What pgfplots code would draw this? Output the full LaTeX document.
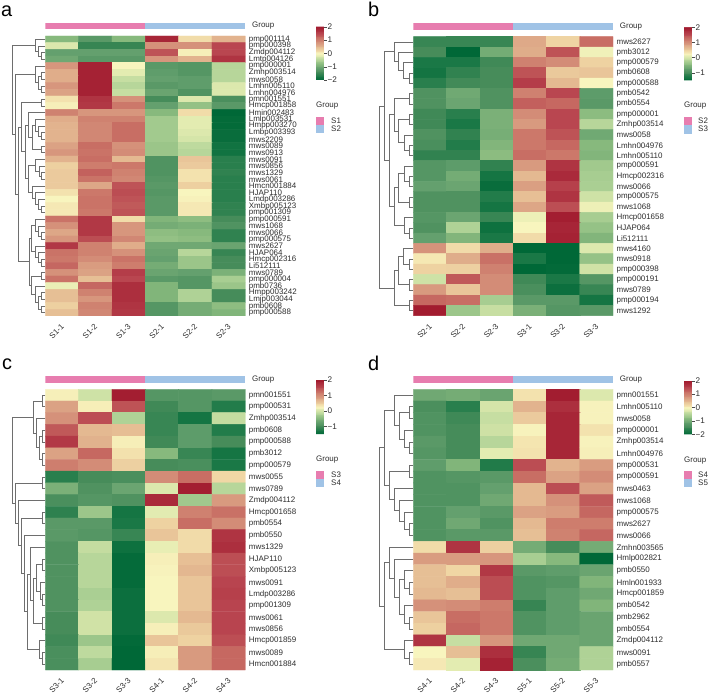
\documentclass[border=0pt]{standalone}
\usepackage{fontspec}
\setmainfont{Liberation Sans}
\usepackage{pgfplots}
\pgfplotsset{compat=1.18}

\definecolor{grpa}{RGB}{231,125,175}
\definecolor{grpb}{RGB}{160,195,230}
\definecolor{dend}{RGB}{110,110,110}
\definecolor{txt}{RGB}{45,45,45}

\newcommand{\smallfont}{\fontsize{8}{8}\selectfont}

\pgfplotsset{
  colormap={heat}{
    rgb255(0pt)=(0,104,55); rgb255(15pt)=(26,120,70); rgb255(30pt)=(70,140,90);
    rgb255(45pt)=(100,160,110); rgb255(60pt)=(135,185,125); rgb255(75pt)=(175,210,150);
    rgb255(88pt)=(215,230,170); rgb255(100pt)=(248,245,190); rgb255(112pt)=(240,215,165);
    rgb255(125pt)=(228,185,145); rgb255(140pt)=(215,150,125); rgb255(160pt)=(200,110,100);
    rgb255(175pt)=(185,70,80); rgb255(200pt)=(160,25,45)},
  heat/.style={
    scale only axis, enlargelimits=false, y dir=reverse,
    xmin=-0.5, xmax=5.5,
    axis line style={draw=none}, tick style={draw=none}, major tick length=0pt,
    xtick={0,...,5}, ytick pos=right, yticklabel pos=right,
    font=\smallfont, tick label style={text=txt},
    yticklabel style={anchor=west, inner sep=0pt, xshift=3.4bp},
    xticklabel style={rotate=45, anchor=north east, inner sep=0pt, xshift=-6bp, yshift=-4bp},
    point meta min=#1,
    colorbar sampled,
  },
  cbar/.style={
    samples=65, width=8bp, anchor=north west,
    axis line style={draw=none}, xtick=\empty,
    ytick style={draw=black!70}, tick align=outside, major tick length=2.5bp,
    ytick pos=right, yticklabel pos=right,
    yticklabel style={anchor=west, inner sep=0pt, xshift=1bp, text=txt, font=\fontsize{8.2}{8}\selectfont},
  },
  annot/.style={
    scale only axis, enlargelimits=false, xmin=0, xmax=6, ymin=0, ymax=1,
    axis line style={draw=none}, tick style={draw=none}, major tick length=0pt,
    xtick=\empty, ytick={0.5}, yticklabels={Group}, ytick pos=right, yticklabel pos=right,
    font=\smallfont, yticklabel style={anchor=west, inner sep=0pt, xshift=6.7bp, text=txt},
  },
  dendro/.style={
    scale only axis, hide axis, enlargelimits=false, clip=false,
    y dir=reverse, x dir=reverse, xmin=0, unbounded coords=jump,
  },
  mat/.style={matrix plot*, mesh/cols=6, point meta=\thisrowno{0}, draw=none},
  /pgfplots/table/tbl/.style={header=false, row sep=crcr,
    x expr={int(mod(\coordindex,6))}, y expr={floor((\coordindex+0.5)/6)}},
}

\begin{document}
\begin{tikzpicture}[x=1bp,y=1bp]
\path[use as bounding box] (0,0) rectangle (708,693);

% ---- a ----
\begin{axis}[heat=-2, at={(45.3bp,377bp)}, anchor=south west, width=200bp, height=280bp,
  point meta max=2, ymin=-0.5, ymax=41.5, ytick={0,...,41},
  xticklabels={S1-1,S1-2,S1-3,S2-1,S2-2,S2-3},
  yticklabels={pmp001114,pmp000398,Zmdp004112,Lmtp004126,pmp000001,Zmhp003514,mws0058,Lmhn005110,Lmhn004976,pmn001551,Hmcp001858,Hmin002483,Lmlp003531,Hmpp003270,Lmbp003393,mws2209,mws0089,mws0913,mws0091,mws0856,mws1329,mws0061,Hmcn001884,HJAP110,Lmdp003286,Xmbp005123,pmp001309,pmp000591,mws1068,mws0066,pmp000575,mws2627,HJAP064,Hmcp002316,Li512111,mws0789,pmp000004,pmb0736,Hmpp003242,Lmjp003044,pmb0608,pmp000588},
  colorbar style={cbar, at={(1.3535,1.0332)}, height=53.3bp, ytick={-2,-1,0,1,2}, yticklabels={−2,−1,0,1,2}}]
\addplot[mat] table[tbl] {
-0.8\\-1.2\\-0.8\\1.85\\0.2\\0.55\\
-0.2\\-1.5\\-1.5\\0.85\\0.85\\1.5\\
-1.1\\-1.1\\-1.1\\1.4\\0.05\\1.5\\
-1.0\\-1.2\\-1.2\\0.8\\0.55\\1.7\\
0.8\\1.9\\0.0\\-1.2\\-1.25\\-0.45\\
0.6\\1.9\\-0.15\\-1.15\\-1.25\\-0.45\\
0.6\\1.9\\-0.35\\-1.1\\-1.15\\-0.45\\
0.8\\1.9\\-0.45\\-1.2\\-1.15\\-0.2\\
0.7\\1.9\\-0.35\\-1.05\\-1.3\\-0.2\\
0.15\\1.7\\0.85\\-1.4\\-0.2\\-1.35\\
0.05\\1.65\\1.1\\-1.1\\-0.7\\-1.2\\
1.0\\0.8\\0.8\\-0.8\\0.2\\-2.0\\
0.6\\1.0\\1.0\\-0.6\\-0.15\\-1.95\\
0.55\\0.95\\1.2\\-0.6\\-0.15\\-1.95\\
0.55\\0.95\\1.2\\-0.6\\-0.2\\-1.9\\
0.55\\0.95\\1.2\\-0.6\\-0.25\\-1.9\\
0.7\\1.2\\0.85\\-0.65\\-0.4\\-1.8\\
0.8\\1.15\\0.9\\-0.65\\-0.45\\-1.8\\
0.55\\1.2\\0.5\\-1.3\\0.4\\-1.6\\
0.3\\1.05\\1.1\\-1.3\\0.35\\-1.6\\
0.35\\1.3\\1.0\\-1.3\\0.15\\-1.55\\
0.35\\1.15\\0.95\\-1.25\\0.15\\-1.6\\
0.35\\0.65\\1.4\\-1.2\\0.3\\-1.6\\
0.15\\1.1\\1.45\\-1.25\\0.0\\-1.6\\
0.0\\1.15\\1.4\\-1.2\\0.03\\-1.6\\
0.1\\1.15\\1.35\\-1.2\\0.1\\-1.55\\
0.1\\1.1\\1.4\\-1.2\\0.1\\-1.55\\
1.15\\1.65\\0.2\\-0.85\\-0.75\\-1.4\\
0.85\\1.65\\0.8\\-0.95\\-0.9\\-1.3\\
0.65\\1.65\\0.8\\-0.75\\-0.8\\-1.55\\
0.8\\1.45\\0.95\\-0.7\\-0.75\\-1.55\\
1.65\\1.0\\0.6\\-1.0\\-1.0\\-1.05\\
1.15\\1.0\\0.85\\-1.05\\-0.45\\-1.5\\
1.1\\0.9\\1.15\\-1.1\\-0.65\\-1.4\\
1.25\\0.75\\1.05\\-0.95\\-0.65\\-1.4\\
0.85\\0.7\\1.6\\-1.05\\-1.1\\-0.9\\
1.15\\0.45\\1.5\\-1.2\\-1.25\\-0.55\\
-0.1\\1.25\\1.75\\-0.85\\-1.25\\-0.65\\
0.45\\1.0\\1.75\\-0.85\\-0.5\\-1.4\\
0.45\\0.8\\1.75\\-0.85\\-0.5\\-1.4\\
0.3\\1.0\\1.7\\-1.25\\-0.95\\-0.75\\
0.45\\0.95\\1.65\\-1.25\\-0.95\\-0.85\\
};
\end{axis}
\begin{axis}[annot, at={(45.3bp,663.7bp)}, anchor=south west, width=200bp, height=6.6bp]
\addplot[fill=grpa, draw=none] coordinates {(0,0)(3,0)(3,1)(0,1)} --cycle;
\addplot[fill=grpb, draw=none] coordinates {(3,0)(6,0)(6,1)(3,1)} --cycle;
\end{axis}
\begin{axis}[dendro, at={(5bp,377bp)}, anchor=south west, width=40.3bp, height=280bp, xmax=121, ymin=-0.5, ymax=41.5]
\addplot[dend, line width=0.7bp] coordinates {
(0,2)(13,2)(13,3)(0,3)(nan,nan)
(0,1)(21,1)(21,2.5)(13,2.5)(nan,nan)
(0,0)(31,0)(31,1.75)(21,1.75)(nan,nan)
(0,5)(12,5)(12,6)(0,6)(nan,nan)
(0,7)(12,7)(12,8)(0,8)(nan,nan)
(12,5.5)(21,5.5)(21,7.5)(12,7.5)(nan,nan)
(0,4)(31,4)(31,6.5)(21,6.5)(nan,nan)
(0,9)(13,9)(13,10)(0,10)(nan,nan)
(0,14)(13,14)(13,15)(0,15)(nan,nan)
(0,13)(21,13)(21,14.5)(13,14.5)(nan,nan)
(0,12)(29,12)(29,13.75)(21,13.75)(nan,nan)
(0,16)(13,16)(13,17)(0,17)(nan,nan)
(29,12.875)(39,12.875)(39,16.5)(13,16.5)(nan,nan)
(0,11)(51,11)(51,14.69)(39,14.69)(nan,nan)
(0,20)(11,20)(11,21)(0,21)(nan,nan)
(0,19)(19,19)(19,20.5)(11,20.5)(nan,nan)
(0,18)(29,18)(29,19.75)(19,19.75)(nan,nan)
(0,25)(13,25)(13,26)(0,26)(nan,nan)
(0,24)(21,24)(21,25.5)(13,25.5)(nan,nan)
(0,23)(29,23)(29,24.75)(21,24.75)(nan,nan)
(0,22)(39,22)(39,23.875)(29,23.875)(nan,nan)
(29,18.875)(51,18.875)(51,22.94)(39,22.94)(nan,nan)
(51,12.84)(61,12.84)(61,20.91)(51,20.91)(nan,nan)
(13,9.5)(71,9.5)(71,16.87)(61,16.87)(nan,nan)
(0,29)(13,29)(13,30)(0,30)(nan,nan)
(0,28)(21,28)(21,29.5)(13,29.5)(nan,nan)
(0,27)(29,27)(29,28.75)(21,28.75)(nan,nan)
(0,33)(13,33)(13,34)(0,34)(nan,nan)
(0,32)(21,32)(21,33.5)(13,33.5)(nan,nan)
(0,31)(29,31)(29,32.75)(21,32.75)(nan,nan)
(29,27.875)(41,27.875)(41,31.875)(29,31.875)(nan,nan)
(0,35)(13,35)(13,36)(0,36)(nan,nan)
(0,38)(13,38)(13,39)(0,39)(nan,nan)
(0,40)(13,40)(13,41)(0,41)(nan,nan)
(13,38.5)(21,38.5)(21,40.5)(13,40.5)(nan,nan)
(0,37)(31,37)(31,39.5)(21,39.5)(nan,nan)
(13,35.5)(41,35.5)(41,38.25)(31,38.25)(nan,nan)
(41,29.875)(49,29.875)(49,36.875)(41,36.875)(nan,nan)
(71,13.19)(81,13.19)(81,33.375)(49,33.375)(nan,nan)
(31,5.25)(89,5.25)(89,23.28)(81,23.28)(nan,nan)
(31,0.875)(100,0.875)(100,14.27)(89,14.27)
};
\end{axis}

% ---- b ----
\begin{axis}[heat=-1.5, at={(413.3bp,377.3bp)}, anchor=south west, width=199.7bp, height=279bp,
  point meta max=2, ymin=-0.5, ymax=26.5, ytick={0,...,26},
  xticklabels={S2-1,S2-2,S2-3,S3-1,S3-2,S3-3},
  yticklabels={mws2627,pmb3012,pmp000579,pmb0608,pmp000588,pmb0542,pmb0554,pmp000001,Zmhp003514,mws0058,Lmhn004976,Lmhn005110,pmp000591,Hmcp002316,mws0066,pmp000575,mws1068,Hmcp001658,HJAP064,Li512111,mws4160,mws0918,pmp000398,pmp000191,mws0789,pmp000194,mws1292},
  colorbar style={cbar, at={(1.3555,1.0337)}, height=53bp, ytick={-1,0,1,2}, yticklabels={−1,0,1,2}}]
\addplot[mat] table[tbl] {
-1.06\\-1.06\\-1.06\\0.81\\0.48\\1.3\\
-0.97\\-1.5\\-0.59\\0.78\\1.48\\0.2\\
-1.24\\-1.24\\-1.01\\1.13\\1.04\\0.5\\
-1.3\\-1.1\\-0.97\\1.48\\0.57\\0.6\\
-1.15\\-1.0\\-0.97\\1.65\\0.69\\0.25\\
-0.89\\-0.62\\-0.89\\1.13\\1.56\\-0.77\\
-0.89\\-0.66\\-0.89\\1.39\\1.34\\-0.8\\
-1.01\\-1.15\\-0.54\\1.04\\1.56\\-0.42\\
-1.01\\-1.24\\-0.54\\0.92\\1.56\\-0.14\\
-0.89\\-1.1\\-0.57\\1.21\\1.48\\-0.62\\
-0.94\\-1.19\\-0.49\\1.21\\1.34\\-0.45\\
-1.1\\-1.1\\-0.42\\1.3\\1.21\\-0.49\\
-0.84\\-0.77\\-1.1\\0.92\\1.74\\-0.28\\
-0.84\\-0.59\\-1.29\\0.69\\1.83\\-0.24\\
-0.71\\-0.66\\-1.41\\0.88\\1.62\\-0.22\\
-0.89\\-0.89\\-1.19\\0.64\\1.74\\-0.01\\
-0.89\\-0.89\\-1.29\\0.83\\1.51\\0.18\\
-0.84\\-0.66\\-1.06\\0.18\\1.95\\-0.24\\
-0.89\\-0.19\\-1.36\\0.25\\1.88\\-0.36\\
-0.71\\-0.49\\-1.24\\0.43\\1.91\\-0.49\\
0.98\\0.43\\0.78\\-1.5\\-1.5\\0.08\\
0.34\\0.78\\1.27\\-1.24\\-1.5\\-0.36\\
0.5\\0.51\\1.13\\-1.5\\-1.47\\0.0\\
-0.01\\1.44\\1.04\\-1.01\\-1.24\\-0.84\\
0.92\\0.6\\1.04\\-0.94\\-1.38\\-1.06\\
1.34\\1.3\\-0.24\\-0.8\\-0.8\\-1.29\\
1.97\\-0.31\\-0.05\\-0.54\\-0.84\\-0.8\\
};
\end{axis}
\begin{axis}[annot, at={(413.3bp,663bp)}, anchor=south west, width=199.7bp, height=6.7bp]
\addplot[fill=grpa, draw=none] coordinates {(0,0)(3,0)(3,1)(0,1)} --cycle;
\addplot[fill=grpb, draw=none] coordinates {(3,0)(6,0)(6,1)(3,1)} --cycle;
\end{axis}
\begin{axis}[dendro, at={(375bp,377.3bp)}, anchor=south west, width=38.3bp, height=279bp, xmax=115, ymin=-0.5, ymax=26.5]
\addplot[dend, line width=0.7bp] coordinates {
(0,3)(13,3)(13,4)(0,4)(nan,nan)
(0,2)(30,2)(30,3.5)(13,3.5)(nan,nan)
(0,1)(45,1)(45,2.75)(30,2.75)(nan,nan)
(0,0)(58,0)(58,1.875)(45,1.875)(nan,nan)
(0,5)(13,5)(13,6)(0,6)(nan,nan)
(0,7)(13,7)(13,8)(0,8)(nan,nan)
(0,10)(13,10)(13,11)(0,11)(nan,nan)
(0,9)(28,9)(28,10.5)(13,10.5)(nan,nan)
(13,7.5)(45,7.5)(45,9.75)(28,9.75)(nan,nan)
(13,5.5)(58,5.5)(58,8.625)(45,8.625)(nan,nan)
(0,13)(13,13)(13,14)(0,14)(nan,nan)
(0,12)(28,12)(28,13.5)(13,13.5)(nan,nan)
(0,15)(13,15)(13,16)(0,16)(nan,nan)
(28,12.75)(45,12.75)(45,15.5)(13,15.5)(nan,nan)
(0,18)(13,18)(13,19)(0,19)(nan,nan)
(0,17)(28,17)(28,18.5)(13,18.5)(nan,nan)
(45,14.125)(58,14.125)(58,17.75)(28,17.75)(nan,nan)
(58,7.06)(72,7.06)(72,15.94)(58,15.94)(nan,nan)
(58,0.94)(87,0.94)(87,11.5)(72,11.5)(nan,nan)
(0,21)(13,21)(13,22)(0,22)(nan,nan)
(0,20)(30,20)(30,21.5)(13,21.5)(nan,nan)
(0,23)(13,23)(13,24)(0,24)(nan,nan)
(30,20.75)(45,20.75)(45,23.5)(13,23.5)(nan,nan)
(0,25)(13,25)(13,26)(0,26)(nan,nan)
(45,22.125)(58,22.125)(58,25.5)(13,25.5)(nan,nan)
(87,6.22)(102,6.22)(102,23.81)(58,23.81)
};
\end{axis}

% ---- c ----
\begin{axis}[heat=-1.5, at={(45.3bp,23bp)}, anchor=south west, width=200bp, height=280.7bp,
  point meta max=2, ymin=-0.5, ymax=23.5, ytick={0,...,23},
  xticklabels={S3-1,S3-2,S3-3,S4-1,S4-2,S4-3},
  yticklabels={pmn001551,pmp000531,Zmhp003514,pmb0608,pmp000588,pmb3012,pmp000579,mws0055,mws0789,Zmdp004112,Hmcp001658,pmb0554,pmb0550,mws1329,HJAP110,Xmbp005123,mws0091,Lmdp003286,pmp001309,mws0061,mws0856,Hmcp001859,mws0089,Hmcn001884},
  colorbar style={cbar, at={(1.3535,1.0331)}, height=54bp, ytick={-1,0,1,2}, yticklabels={−1,0,1,2}}]
\addplot[mat] table[tbl] {
0.29\\-0.01\\1.95\\-0.84\\-0.84\\-0.8\\
0.86\\0.3\\1.48\\-1.01\\-0.84\\-1.19\\
0.99\\1.51\\-0.19\\-1.06\\-1.29\\-0.07\\
1.44\\0.69\\0.65\\-1.06\\-0.77\\-1.19\\
1.69\\0.74\\0.3\\-1.01\\-0.77\\-0.97\\
0.86\\1.34\\0.39\\-0.45\\-1.06\\-1.29\\
1.16\\1.04\\0.51\\-0.97\\-0.94\\-1.24\\
-1.15\\-0.97\\-0.94\\1.04\\1.3\\0.46\\
-0.54\\-0.89\\-0.66\\0.07\\1.95\\-0.14\\
-0.94\\-0.84\\-0.89\\1.83\\-0.28\\0.92\\
-1.12\\-0.31\\-1.29\\0.11\\1.13\\1.27\\
-0.8\\-0.8\\-1.24\\0.5\\1.3\\1.04\\
-0.8\\-0.84\\-1.06\\0.6\\0.43\\1.74\\
-0.89\\-0.07\\-1.36\\0.15\\0.43\\1.79\\
-0.89\\-0.14\\-1.45\\0.29\\0.64\\1.51\\
-0.89\\-0.14\\-1.45\\0.27\\0.7\\1.51\\
-0.89\\-0.14\\-1.45\\0.25\\0.6\\1.58\\
-0.89\\-0.22\\-1.38\\0.25\\0.6\\1.62\\
-0.89\\-0.19\\-1.38\\0.25\\0.6\\1.58\\
-0.97\\0.0\\-1.38\\0.07\\0.69\\1.58\\
-0.97\\0.0\\-1.38\\0.29\\0.57\\1.58\\
-1.01\\-0.31\\-1.47\\0.6\\0.5\\1.51\\
-0.94\\-0.1\\-1.5\\0.3\\0.92\\1.34\\
-0.94\\-0.24\\-1.5\\0.36\\0.92\\1.34\\
};
\end{axis}
\begin{axis}[annot, at={(45.3bp,310bp)}, anchor=south west, width=200bp, height=6.5bp]
\addplot[fill=grpa, draw=none] coordinates {(0,0)(3,0)(3,1)(0,1)} --cycle;
\addplot[fill=grpb, draw=none] coordinates {(3,0)(6,0)(6,1)(3,1)} --cycle;
\end{axis}
\begin{axis}[dendro, at={(5bp,23bp)}, anchor=south west, width=40.3bp, height=280.7bp, xmax=121, ymin=-0.5, ymax=23.5]
\addplot[dend, line width=0.7bp] coordinates {
(0,0)(8,0)(8,1)(0,1)(nan,nan)
(0,3)(8,3)(8,4)(0,4)(nan,nan)
(0,5)(8,5)(8,6)(0,6)(nan,nan)
(8,3.5)(18,3.5)(18,5.5)(8,5.5)(nan,nan)
(0,2)(28,2)(28,4.5)(18,4.5)(nan,nan)
(8,0.5)(36,0.5)(36,3.25)(28,3.25)(nan,nan)
(0,7)(8,7)(8,8)(0,8)(nan,nan)
(0,10)(8,10)(8,11)(0,11)(nan,nan)
(0,14)(8,14)(8,15)(0,15)(nan,nan)
(0,17)(8,17)(8,18)(0,18)(nan,nan)
(0,16)(16,16)(16,17.5)(8,17.5)(nan,nan)
(8,14.5)(28,14.5)(28,16.75)(16,16.75)(nan,nan)
(0,19)(8,19)(8,20)(0,20)(nan,nan)
(28,15.625)(36,15.625)(36,19.5)(8,19.5)(nan,nan)
(0,13)(44,13)(44,17.56)(36,17.56)(nan,nan)
(0,22)(8,22)(8,23)(0,23)(nan,nan)
(0,21)(18,21)(18,22.5)(8,22.5)(nan,nan)
(44,15.28)(54,15.28)(54,21.75)(18,21.75)(nan,nan)
(0,12)(63,12)(63,18.5)(54,18.5)(nan,nan)
(8,10.5)(71,10.5)(71,15.25)(63,15.25)(nan,nan)
(0,9)(81,9)(81,12.875)(71,12.875)(nan,nan)
(8,7.5)(91,7.5)(91,10.94)(81,10.94)(nan,nan)
(36,1.875)(99,1.875)(99,9.22)(91,9.22)
};
\end{axis}

% ---- d ----
\begin{axis}[heat=-2, at={(413.3bp,23bp)}, anchor=south west, width=199.7bp, height=280.7bp,
  point meta max=2, ymin=-0.5, ymax=23.5, ytick={0,...,23},
  xticklabels={S4-1,S4-2,S4-3,S5-1,S5-2,S5-3},
  yticklabels={pmn001551,Lmhn005110,mws0058,pmp000001,Zmhp003514,Lmhn004976,pmp000531,pmp000591,mws0463,mws1068,pmp000575,mws2627,mws0066,Zmhn003565,Hmlp002821,pmb0550,Hmln001933,Hmcp001859,pmb0542,pmb2962,pmb0554,Zmdp004112,mws0091,pmb0557},
  colorbar style={cbar, at={(1.3555,1.0306)}, height=53.6bp, ytick={-2,-1,0,1,2}, yticklabels={−2,−1,0,1,2}}]
\addplot[mat] table[tbl] {
-1.0\\-0.95\\-1.05\\0.15\\1.95\\-0.2\\
-1.35\\-1.6\\-0.25\\0.55\\1.75\\0.02\\
-1.3\\-1.45\\-0.35\\0.35\\1.85\\0.02\\
-1.3\\-1.4\\-0.3\\0.02\\1.85\\0.15\\
-1.2\\-1.4\\-0.45\\0.13\\1.85\\0.02\\
-1.25\\-1.4\\-0.15\\0.15\\1.85\\0.05\\
-1.15\\-0.85\\-1.65\\1.45\\0.55\\0.75\\
-1.3\\-1.25\\-1.2\\1.2\\0.7\\0.9\\
-1.3\\-1.3\\-1.1\\0.5\\1.45\\0.7\\
-1.3\\-1.3\\-1.0\\0.5\\0.85\\1.35\\
-1.3\\-1.1\\-1.2\\0.7\\0.75\\1.25\\
-1.3\\-1.0\\-1.3\\0.5\\1.05\\1.05\\
-1.3\\-1.2\\-1.2\\0.45\\1.0\\1.25\\
0.2\\1.7\\0.3\\-0.95\\-1.4\\-0.95\\
0.75\\0.75\\0.8\\-0.55\\-0.8\\-2.0\\
0.45\\0.25\\1.65\\-1.2\\-1.15\\-1.05\\
0.45\\0.6\\1.45\\-1.3\\-1.25\\-0.85\\
0.5\\0.45\\1.45\\-1.3\\-1.15\\-1.0\\
0.85\\0.9\\1.05\\-1.5\\-1.15\\-0.85\\
0.4\\1.2\\1.1\\-1.3\\-1.15\\-1.05\\
0.3\\1.25\\1.1\\-1.3\\-1.15\\-1.05\\
1.7\\-0.35\\0.8\\-1.0\\-1.0\\-1.05\\
0.0\\0.45\\1.75\\-1.5\\-1.0\\-0.5\\
0.1\\-0.15\\1.9\\-1.35\\-0.95\\-0.5\\
};
\end{axis}
\begin{axis}[annot, at={(413.3bp,310bp)}, anchor=south west, width=199.7bp, height=6.5bp]
\addplot[fill=grpa, draw=none] coordinates {(0,0)(3,0)(3,1)(0,1)} --cycle;
\addplot[fill=grpb, draw=none] coordinates {(3,0)(6,0)(6,1)(3,1)} --cycle;
\end{axis}
\begin{axis}[dendro, at={(375bp,23bp)}, anchor=south west, width=38.3bp, height=280.7bp, xmax=115, ymin=-0.5, ymax=23.5]
\addplot[dend, line width=0.7bp] coordinates {
(0,1)(13,1)(13,2)(0,2)(nan,nan)
(0,4)(13,4)(13,5)(0,5)(nan,nan)
(0,3)(28,3)(28,4.5)(13,4.5)(nan,nan)
(13,1.5)(43,1.5)(43,3.75)(28,3.75)(nan,nan)
(0,0)(58,0)(58,2.625)(43,2.625)(nan,nan)
(0,6)(13,6)(13,7)(0,7)(nan,nan)
(0,11)(13,11)(13,12)(0,12)(nan,nan)
(0,10)(28,10)(28,11.5)(13,11.5)(nan,nan)
(0,9)(43,9)(43,10.75)(28,10.75)(nan,nan)
(0,8)(58,8)(58,9.875)(43,9.875)(nan,nan)
(13,6.5)(72,6.5)(72,8.94)(58,8.94)(nan,nan)
(58,1.31)(87,1.31)(87,7.72)(72,7.72)(nan,nan)
(0,16)(13,16)(13,17)(0,17)(nan,nan)
(0,15)(28,15)(28,16.5)(13,16.5)(nan,nan)
(0,19)(13,19)(13,20)(0,20)(nan,nan)
(0,18)(28,18)(28,19.5)(13,19.5)(nan,nan)
(28,15.75)(43,15.75)(43,18.75)(28,18.75)(nan,nan)
(0,14)(58,14)(58,17.25)(43,17.25)(nan,nan)
(0,13)(72,13)(72,15.63)(58,15.63)(nan,nan)
(0,22)(13,22)(13,23)(0,23)(nan,nan)
(0,21)(28,21)(28,22.5)(13,22.5)(nan,nan)
(72,14.31)(87,14.31)(87,21.75)(28,21.75)(nan,nan)
(87,4.5)(102,4.5)(102,18.03)(87,18.03)
};
\end{axis}

% legends and panel letters
\begin{scope}[every node/.style={inner sep=0pt, anchor=base west, text=txt, font=\smallfont}]
\node at (316,585) {Group};
\fill[grpa] (316,568) rectangle (324,576);
\fill[grpb] (316,560) rectangle (324,568);
\node at (331,569) {S1};
\node at (331,561) {S2};
\node at (684,585) {Group};
\fill[grpa] (684,567.7) rectangle (692,575.7);
\fill[grpb] (684,559) rectangle (692,567.7);
\node at (698,569) {S2};
\node at (698,561) {S3};
\node at (316,231) {Group};
\fill[grpa] (316,214) rectangle (324,222);
\fill[grpb] (316,206) rectangle (324,214);
\node at (331,215) {S3};
\node at (331,207) {S4};
\node at (684,230.5) {Group};
\fill[grpa] (684,213.7) rectangle (692,221.7);
\fill[grpb] (684,205.5) rectangle (692,213.7);
\node at (698,215) {S4};
\node at (698,207) {S5};
\end{scope}
\begin{scope}[every node/.style={inner sep=0pt, anchor=base west, text=black, font=\fontsize{20}{20}\selectfont}]
\node at (1,676.3) {a};
\node at (368,676.3) {b};
\node at (2,323) {c};
\node at (368,322) {d};
\end{scope}
\end{tikzpicture}
\end{document}
